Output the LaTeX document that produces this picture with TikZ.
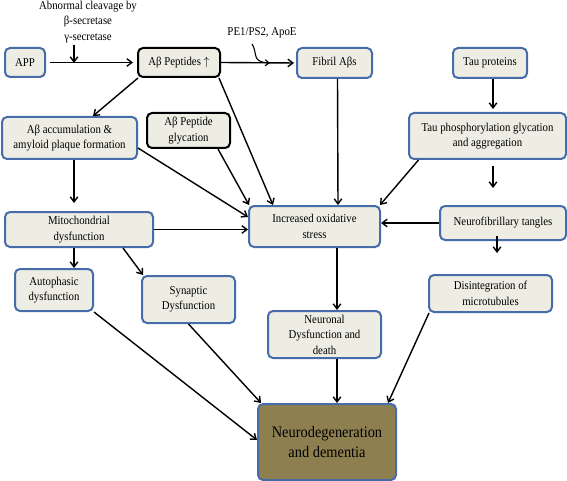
\documentclass[tikz,border=0pt]{standalone}
\usepackage{fontspec}
\setmainfont[FakeStretch=0.9]{Liberation Serif}
\usetikzlibrary{arrows.meta}
\definecolor{boxblue}{RGB}{70,108,170}
\definecolor{boxfill}{RGB}{238,237,228}
\definecolor{olivefill}{RGB}{142,127,80}
\begin{document}
\begin{tikzpicture}[x=1pt,y=-1pt,
  box/.style={draw=boxblue,line width=2pt,fill=boxfill,rounded corners=5pt,align=center,
    inner sep=1pt,font=\fontsize{12}{15.5}\selectfont},
  blackbox/.style={box,draw=black},
  lbl/.style={align=center,inner sep=0pt,font=\fontsize{12}{15.5}\selectfont},
  arr/.style={line width=1.4pt,-{Straight Barb[length=5pt,width=7.5pt]}}]
\useasboundingbox (0,0) rectangle (567,481);
% nodes
\node[box,minimum width=40pt,minimum height=29pt] (app) at (25,62.5) {APP};
\node[blackbox,minimum width=82pt,minimum height=29pt] (abp) at (179,62.5) {Aβ Peptides $\uparrow$};
\node[box,minimum width=75pt,minimum height=30pt] (fib) at (334.5,63) {Fibril Aβs};
\node[box,minimum width=74pt,minimum height=30pt] (tau) at (490,63) {Tau proteins};
\node[box,minimum width=135pt,minimum height=42pt] (acc) at (69.5,138) {Aβ accumulation \&\\amyloid plaque formation};
\node[blackbox,minimum width=83pt,minimum height=35pt] (gly) at (188.5,130.5) {Aβ Peptide\\glycation};
\node[box,minimum width=157pt,minimum height=46pt] (tph) at (487.5,136) {Tau phosphorylation glycation\\and aggregation};
\node[box,minimum width=148pt,minimum height=35pt] (mito) at (79,229.5) {Mitochondrial\\dysfunction};
\node[box,minimum width=131pt,minimum height=41pt] (iox) at (314.5,226.5) {Increased oxidative\\stress};
\node[box,minimum width=126pt,minimum height=34pt] (nf) at (503,223) {Neurofibrillary tangles};
\node[box,minimum width=78pt,minimum height=42pt] (aut) at (54,290) {Autophasic\\dysfunction};
\node[box,minimum width=93pt,minimum height=47pt] (syn) at (188.5,299.5) {Synaptic\\Dysfunction};
\node[box,minimum width=123pt,minimum height=37pt] (dis) at (490.5,293.5) {Disintegration of\\microtubules};
\node[box,minimum width=113pt,minimum height=47pt] (neu) at (324.5,334.5) {Neuronal\\Dysfunction and\\death};
\node[box,fill=olivefill,minimum width=138pt,minimum height=76pt,font=\fontsize{16}{20}\selectfont] (nd) at (327,442) {Neurodegeneration\\and dementia};
% labels
\node[lbl] (cleav) at (88,22) {Abnormal cleavage by\\β-secretase\\γ-secretase};
\node[lbl] (pe) at (262,33) {PE1/PS2, ApoE};
\coordinate (c1) at (74,45);
\coordinate (c2) at (74,63);
\coordinate (s1) at (252,44);
\coordinate (s2) at (270,63);
% connectors
\draw[arr,shorten <=4pt,shorten >=4pt] (app.east) -- (abp.west);
\draw[arr] (c1) -- (c2);
\draw[arr,shorten >=2pt] (abp.east) -- (fib.west);
\draw[line width=1.1pt,-{Straight Barb[length=4pt,width=6pt]}] (s1) .. controls (258,53) and (251,62) .. (s2);
\draw[arr] ([xshift=1pt]abp.south west) -- ([xshift=23.5pt]acc.north);
\draw[arr] ([xshift=-2pt]abp.south east) -- ([xshift=-41.5pt]iox.north);
\draw[arr] ([xshift=29.5pt]gly.south) -- ([xshift=1pt]iox.north west);
\draw[arr] ([yshift=-10pt]acc.east) -- ([yshift=9.5pt]iox.west);
\draw[arr,shorten >=8pt] ([xshift=4.5pt]acc.south) -- ([xshift=-5pt]mito.north);
\draw[arr] (mito.east) -- (mito.east -| iox.west);
\draw[arr] ([xshift=-5pt]mito.south) -- ([xshift=20pt]aut.north);
\draw[arr] ([xshift=44pt]mito.south) -- ([xshift=2pt]syn.north west);
\draw[arr] ([xshift=3pt]fib.south) -- ([xshift=23.5pt]iox.north);
\draw[arr,shorten >=3pt] ([xshift=3pt]tau.south) -- ([xshift=5.5pt]tph.north);
\draw[arr] ([xshift=10.5pt]tph.south west) -- ([xshift=-1pt]iox.north east);
\draw[arr,shorten <=6pt,shorten >=17pt] ([xshift=5.5pt]tph.south) -- ([xshift=-10pt]nf.north);
\draw[arr] (nf.west) -- (nf.west -| iox.east);
\draw[arr,shorten >=21pt] ([xshift=-6pt,yshift=5pt]nf.south) -- ([xshift=6.5pt]dis.north);
\draw[arr] ([xshift=22.5pt]iox.south) -- ([xshift=12.5pt]neu.north);
\draw[arr] ([xshift=12.5pt]neu.south) -- ([xshift=10pt]nd.north);
\draw[arr] (aut.south east) -- ([yshift=2pt]nd.west);
\draw[arr] (syn.south) -- ([xshift=4pt]nd.north west);
\draw[arr] ([xshift=1pt]dis.south west) -- ([xshift=-9pt]nd.north east);
\end{tikzpicture}
\end{document}
